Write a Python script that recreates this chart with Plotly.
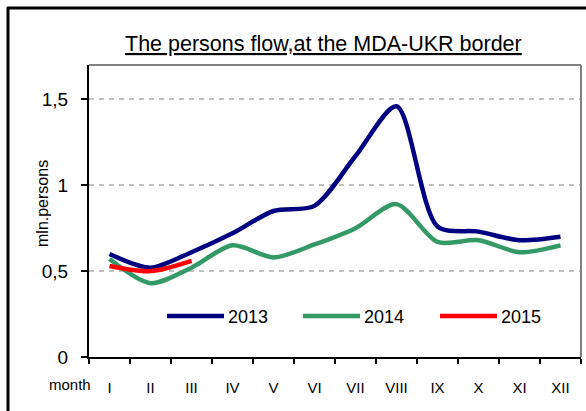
import plotly.graph_objects as go

months = ["I", "II", "III", "IV", "V", "VI", "VII", "VIII", "IX", "X", "XI", "XII"]
y2013 = [0.60, 0.52, 0.61, 0.72, 0.85, 0.88, 1.17, 1.46, 0.76, 0.73, 0.68, 0.70]
y2014 = [0.57, 0.43, 0.52, 0.65, 0.58, 0.655, 0.75, 0.89, 0.67, 0.68, 0.61, 0.65]
y2015 = [0.53, 0.50, 0.56]
series_names = ["2013", "2014", "2015"]
colors = ["#000080", "#339966", "#ff0000"]

W, H = 586, 411
L, R, T, B = 89, 5, 65, 54
pw, ph = W - L - R, H - T - B

def px(x):
    return (x - L) / pw

def py(y):
    return (H - B - y) / ph

SANS = "Liberation Sans, Arial"

fig = go.Figure()
for name, ys, c in zip(series_names, [y2013, y2014, y2015], colors):
    fig.add_trace(go.Scatter(x=months[:len(ys)], y=ys, mode="lines", name=name,
                             line=dict(color=c, width=4.5, shape="spline", smoothing=0.8),
                             showlegend=False, cliponaxis=False))

shapes = []
annotations = []
# custom legend
leg_x = [167, 303, 440]
for name, c, x0 in zip(series_names, colors, leg_x):
    shapes.append(dict(type="line", xref="paper", yref="paper",
                       x0=px(x0), x1=px(x0 + 57), y0=py(316), y1=py(316),
                       line=dict(color=c, width=4.5)))
    annotations.append(dict(text=name, xref="paper", yref="paper", x=px(x0 + 59), y=py(317),
                            xanchor="left", yanchor="middle", showarrow=False,
                            font=dict(family=SANS, size=18, color="black")))
# plot area top/right gray border
shapes.append(dict(type="line", xref="paper", yref="paper", x0=0, x1=1, y0=1, y1=1,
                   line=dict(color="#808080", width=2)))
shapes.append(dict(type="line", xref="paper", yref="paper", x0=1, x1=1, y0=0, y1=1,
                   line=dict(color="#808080", width=2)))
# outer frame
shapes.append(dict(type="line", xref="paper", yref="paper", x0=px(8), x1=px(8), y0=py(7), y1=py(420),
                   line=dict(color="black", width=3)))
shapes.append(dict(type="line", xref="paper", yref="paper", x0=px(7), x1=px(590), y0=py(8), y1=py(8),
                   line=dict(color="black", width=3)))

annotations.append(dict(text="<u>The persons flow,at the MDA-UKR border</u>", xref="paper", yref="paper",
                        x=px(323), y=py(44), xanchor="center", yanchor="middle", showarrow=False,
                        font=dict(family=SANS, size=21.5, color="black")))
annotations.append(dict(text="month", xref="paper", yref="paper", x=px(93), y=py(384),
                        xanchor="right", yanchor="middle", showarrow=False,
                        font=dict(family=SANS, size=15, color="black")))
annotations.append(dict(text="mln.persons", xref="paper", yref="paper", x=px(42), y=py(204),
                        xanchor="center", yanchor="middle", showarrow=False, textangle=-90,
                        font=dict(family=SANS, size=16, color="black")))

fig.update_layout(
    width=W, height=H,
    margin=dict(l=L, r=R, t=T, b=B, autoexpand=False),
    paper_bgcolor="white", plot_bgcolor="white",
    separators=", ",
    shapes=shapes, annotations=annotations,
    xaxis=dict(type="category", categoryorder="array", categoryarray=months, automargin=False,
               range=[-0.5, 11.5], tickson="boundaries", ticks="outside", ticklen=5,
               tickwidth=2, tickcolor="black", showline=True, linecolor="black", linewidth=2,
               showgrid=False, zeroline=False, ticklabelstandoff=16,
               tickfont=dict(family=SANS, size=15, color="black")),
    yaxis=dict(range=[0, 1.7], tickvals=[0, 0.5, 1, 1.5], ticktext=["0", "0,5", "1", "1,5"],
               automargin=False,
               ticks="outside", ticklen=6, tickwidth=2, tickcolor="black",
               showline=True, linecolor="black", linewidth=2, zeroline=False,
               showgrid=True, gridcolor="#c0c0c0", gridwidth=2, griddash="5px,5px",
               ticklabelstandoff=9,
               tickfont=dict(family=SANS, size=19, color="black")),
)
fig.write_html("out.html", config={"displayModeBar": False},
               post_script="document.body.style.margin='0';document.body.style.overflow='hidden';")
